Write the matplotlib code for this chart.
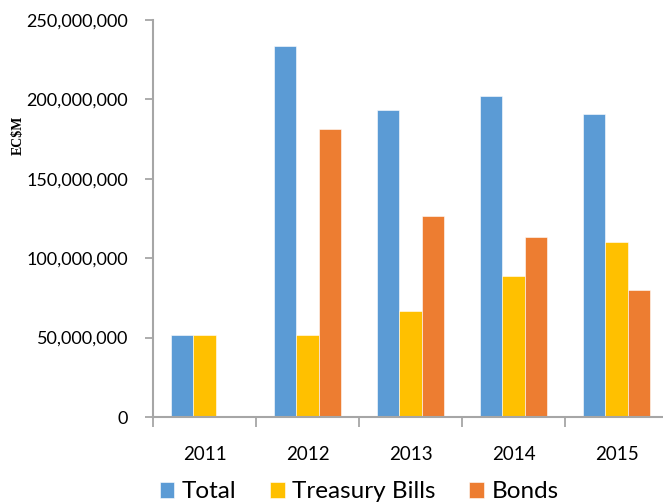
import numpy as np
import matplotlib
matplotlib.use("Agg")
import matplotlib.pyplot as plt
from matplotlib.ticker import FuncFormatter, FixedLocator

years = ["2011", "2012", "2013", "2014", "2015"]
total = [51.6e6, 233.6e6, 193.5e6, 202.1e6, 190.6e6]
treasury_bills = [51.6e6, 51.6e6, 66.9e6, 88.8e6, 110.4e6]
bonds = [0, 181.4e6, 126.6e6, 113.1e6, 79.7e6]

series = [("Total", total, "#5B9BD5"),
          ("Treasury Bills", treasury_bills, "#FFC000"),
          ("Bonds", bonds, "#ED7D31")]

plt.rcParams['font.family'] = ['Lato', 'DejaVu Sans']
axis_grey = "#A6A6A6"

fig = plt.figure(figsize=(6.63, 5.04), dpi=100)
# axes runs slightly past the right edge of the figure
ax = fig.add_axes([153 / 663, 87 / 504, 515 / 663, 397 / 504])

x = np.arange(len(years))
w = 0.218
for i, (name, vals, col) in enumerate(series):
    ax.bar(x + (i - 1) * w, vals, w, color=col, label=name,
           edgecolor="white", linewidth=0.4)

ax.set_xlim(-0.5, len(years) - 0.5)
ax.set_ylim(0, 250e6)
ax.set_yticks(np.arange(0, 250e6 + 1, 50e6))
ax.yaxis.set_major_formatter(FuncFormatter(lambda v, p: f"{int(v):,}"))

ax.set_xticks(x)
ax.set_xticklabels(years)
ax.xaxis.set_minor_locator(FixedLocator(np.arange(-0.5, len(years), 1.0)))
ax.tick_params(axis="x", which="major", length=0, pad=21, labelsize=13.5)
ax.tick_params(axis="x", which="minor", length=7, width=1.3, color=axis_grey)
ax.tick_params(axis="y", length=6, width=1.3, color=axis_grey, pad=12, labelsize=13)

for s in ["top", "right"]:
    ax.spines[s].set_visible(False)
for s in ["left", "bottom"]:
    ax.spines[s].set_color(axis_grey)
    ax.spines[s].set_linewidth(1.5)

fig.text(18 / 663, 1 - 135 / 504, "EC$M", rotation=90, ha="center", va="center",
         fontsize=10, fontweight="bold", family="Liberation Serif")

fig.legend(loc="center", bbox_to_anchor=(359 / 663, 12 / 504), ncol=3,
           frameon=False, fontsize=17.5, handlelength=0.6, handleheight=0.6,
           handletextpad=0.3, columnspacing=1.4, borderaxespad=0)

fig.savefig("out.png", dpi=100)
